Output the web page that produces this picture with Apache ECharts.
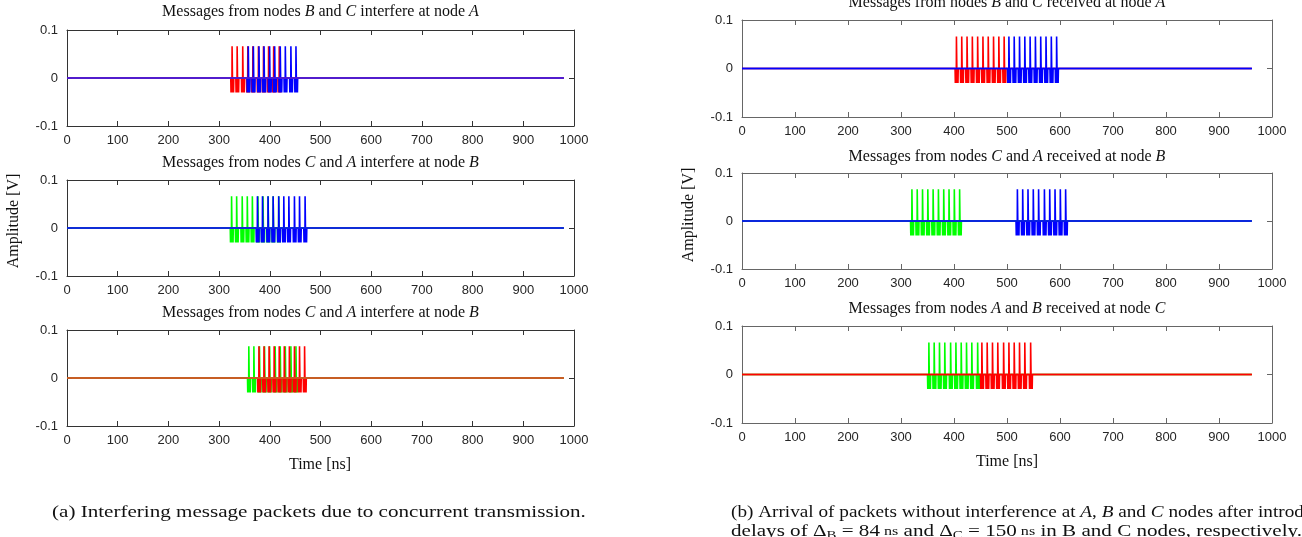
<!DOCTYPE html>
<html>
<head>
<meta charset="utf-8">
<script src="https://cdn.jsdelivr.net/npm/echarts@6/dist/echarts.min.js"></script>
<style>
  html, body { margin: 0; padding: 0; background: #fff; }
  #chart { width: 1302px; height: 537px; }
</style>
</head>
<body>
<div id="chart"></div>
<script>
// ---- data -------------------------------------------------------------
// record length of the traces [ns]
const recordEndConc = 980;
const recordEndDel = 962;

// one pulse: time offsets [ns] and amplitudes [V]
const pulseOffsets = [-3, -2.5, -2, -1.5, -1, -0.7, -0.4, 0.4, 0.7, 1, 1.5, 2, 2.5, 3];
const pulseAmps    = [0, -0.03, 0, -0.03, 0, -0.03, 0.066, 0.066, -0.03, 0, -0.03, 0, -0.03, 0];

// (a) concurrent transmission: pulse arrival times [ns]
const concA_nodeB = [326, 336, 347, 357, 367, 378, 388, 398, 408, 419];
const concA_nodeC = [358, 368, 379, 389, 400, 410, 421, 431, 442, 452];
const concB_nodeA = [325, 335, 346, 356, 366, 377, 387, 397, 407, 418];
const concB_nodeC = [376, 386, 397, 407, 418, 428, 438, 449, 459, 470];
const concC_nodeA = [359, 369, 380, 390, 400, 411, 421, 431, 442, 452];
const concC_nodeB = [379, 389, 399, 409, 419, 429, 439, 449, 459, 469];

// (b) delayed transmission: pulse arrival times [ns]
const delA_nodeB = [405, 415, 425, 435, 445, 455, 465, 475, 485, 495];
const delA_nodeC = [504, 514, 524, 534, 544, 554, 564, 574, 584, 594];
const delB_nodeA = [321, 331, 341, 351, 361, 371, 381, 391, 401, 411];
const delB_nodeC = [520, 530, 540, 550, 560, 571, 581, 591, 601, 611];
const delC_nodeA = [353, 363, 373, 383, 394, 404, 414, 424, 434, 445];
const delC_nodeB = [453, 463, 473, 483, 494, 504, 514, 524, 534, 545];

// axis ticks
const xTicks = { min: 0, max: 1000, step: 100 };
const yTicks = { min: -0.1, max: 0.1, step: 0.1 };

// ---- styling ----------------------------------------------------------
const RED = '#ff0000', BLUE = '#0000ff', GREEN = '#00ff00';
const serif = '"Liberation Serif", "DejaVu Serif", serif';
const sans = '"Liberation Sans", Arial, sans-serif';

const panels = [
  { grid: { left: 67, top: 30, width: 507, height: 96 }, axis: '#333333',
    title: ['B', 'C', 'interfere at node', 'A'], titleY: 12, end: recordEndConc,
    traces: [[concA_nodeB, RED], [concA_nodeC, BLUE]], base: '#5a22cc' },
  { grid: { left: 67, top: 180, width: 507, height: 96 }, axis: '#333333',
    title: ['C', 'A', 'interfere at node', 'B'], titleY: 163, end: recordEndConc,
    traces: [[concB_nodeA, GREEN], [concB_nodeC, BLUE]], base: '#1028d8' },
  { grid: { left: 67, top: 330, width: 507, height: 96 }, axis: '#333333',
    title: ['C', 'A', 'interfere at node', 'B'], titleY: 313, end: recordEndConc,
    traces: [[concC_nodeA, GREEN], [concC_nodeB, RED]], base: '#c46a2c' },
  { grid: { left: 742, top: 20, width: 530, height: 97 }, axis: '#666666',
    title: ['B', 'C', 'received at node', 'A'], titleY: 3, end: recordEndDel,
    traces: [[delA_nodeB, RED], [delA_nodeC, BLUE]], base: BLUE },
  { grid: { left: 742, top: 173, width: 530, height: 96 }, axis: '#666666',
    title: ['C', 'A', 'received at node', 'B'], titleY: 157, end: recordEndDel,
    traces: [[delB_nodeA, GREEN], [delB_nodeC, BLUE]], base: '#0a20e0' },
  { grid: { left: 742, top: 326, width: 530, height: 97 }, axis: '#666666',
    title: ['A', 'B', 'received at node', 'C'], titleY: 309, end: recordEndDel,
    traces: [[delC_nodeA, GREEN], [delC_nodeB, RED]], base: RED }
];

// build a waveform from a list of pulse times
function waveform(times, end) {
  const pts = [[0, 0]];
  times.forEach(t => {
    pulseOffsets.forEach((o, i) => pts.push([t + o, pulseAmps[i]]));
  });
  pts.push([end, 0]);
  return pts;
}

const grids = [], xAxes = [], yAxes = [], series = [], titles = [];

panels.forEach((p, k) => {
  grids.push(Object.assign({ containLabel: false, show: false }, p.grid));
  const line = { show: true, onZero: false, lineStyle: { color: p.axis, width: 1 } };
  const tick = { show: true, inside: true, length: 5, lineStyle: { color: p.axis } };
  xAxes.push({
    gridIndex: k, type: 'value', position: 'bottom',
    min: xTicks.min, max: xTicks.max, interval: xTicks.step,
    axisLine: line, axisTick: tick, splitLine: { show: false },
    axisLabel: { fontFamily: sans, fontSize: 13, color: '#262626', margin: 8,
                 formatter: v => String(v) }
  });
  xAxes.push({
    gridIndex: k, type: 'value', position: 'top',
    min: xTicks.min, max: xTicks.max, interval: xTicks.step,
    axisLine: line, axisTick: tick, splitLine: { show: false },
    axisLabel: { show: false }
  });
  yAxes.push({
    gridIndex: k, type: 'value', position: 'left',
    min: yTicks.min, max: yTicks.max, interval: yTicks.step,
    axisLine: line, axisTick: tick, splitLine: { show: false },
    axisLabel: {
      fontFamily: sans, fontSize: 13, color: '#262626', margin: 9,
      formatter: v => Math.abs(v) < 1e-9 ? '0' : v.toFixed(1)
    }
  });
  yAxes.push({
    gridIndex: k, type: 'value', position: 'right',
    min: yTicks.min, max: yTicks.max, interval: yTicks.step,
    axisLine: line, axisTick: tick, splitLine: { show: false },
    axisLabel: { show: false }
  });

  p.traces.forEach(([times, color], j) => {
    series.push({
      type: 'line', xAxisIndex: 2 * k, yAxisIndex: 2 * k,
      data: waveform(times, p.end), showSymbol: false, symbol: 'none',
      lineStyle: { color, width: 1.6 }, itemStyle: { color },
      z: 2 + j, silent: true, clip: true
    });
  });
  // flat part of the record where both traces overlap
  series.push({
    type: 'line', xAxisIndex: 2 * k, yAxisIndex: 2 * k,
    data: [[0, 0], [p.end, 0]], showSymbol: false, symbol: 'none',
    lineStyle: { color: p.base, width: 1.3 }, z: 5, silent: true
  });

  const cx = p.grid.left + p.grid.width / 2;
  titles.push({
    type: 'text', x: cx, y: p.titleY,
    style: {
      text: 'Messages from nodes {i|' + p.title[0] + '} and {i|' + p.title[1] + '} ' +
            p.title[2] + ' {i|' + p.title[3] + '}',
      align: 'center', verticalAlign: 'middle',
      fontFamily: serif, fontSize: 16, fill: '#111',
      rich: { i: { fontStyle: 'italic', fontFamily: serif, fontSize: 16 } }
    }
  });
});

const texts = titles.concat([
  { type: 'text', x: 14, y: 221, rotation: Math.PI / 2,
    style: { text: 'Amplitude [V]', align: 'center', verticalAlign: 'middle',
             fontFamily: serif, fontSize: 16, fill: '#111' } },
  { type: 'text', x: 689, y: 215, rotation: Math.PI / 2,
    style: { text: 'Amplitude [V]', align: 'center', verticalAlign: 'middle',
             fontFamily: serif, fontSize: 16, fill: '#111' } },
  { type: 'text', x: 320, y: 465,
    style: { text: 'Time [ns]', align: 'center', verticalAlign: 'middle',
             fontFamily: serif, fontSize: 16, fill: '#111' } },
  { type: 'text', x: 1007, y: 462,
    style: { text: 'Time [ns]', align: 'center', verticalAlign: 'middle',
             fontFamily: serif, fontSize: 16, fill: '#111' } },
  { type: 'text', x: 52, y: 513, scaleX: 1.24,
    style: { text: '(a) Interfering message packets due to concurrent transmission.',
             align: 'left', verticalAlign: 'middle',
             fontFamily: serif, fontSize: 17, fill: '#111' } },
  { type: 'text', x: 731, y: 513, scaleX: 1.13,
    style: { text: '(b) Arrival of packets without interference at {i|A}, {i|B} and {i|C} nodes after introducing',
             align: 'left', verticalAlign: 'middle',
             fontFamily: serif, fontSize: 17, fill: '#111',
             rich: { i: { fontStyle: 'italic', fontFamily: serif, fontSize: 17 } } } },
  { type: 'text', x: 731, y: 532, scaleX: 1.24,
    style: { text: 'delays of Δ{s|B} = 84{u| ns} and Δ{s|C} = 150{u| ns} in B and C nodes, respectively.',
             align: 'left', verticalAlign: 'middle',
             fontFamily: serif, fontSize: 17, fill: '#111',
             rich: {
               s: { fontFamily: serif, fontSize: 12, padding: [8, 0, 0, 0] },
               u: { fontFamily: serif, fontSize: 13 }
             } } }
]);

const chart = echarts.init(document.getElementById('chart'), null, { renderer: 'canvas' });
chart.setOption({
  animation: false,
  backgroundColor: '#ffffff',
  grid: grids,
  xAxis: xAxes,
  yAxis: yAxes,
  series: series,
  graphic: texts
});
</script>
</body>
</html>
